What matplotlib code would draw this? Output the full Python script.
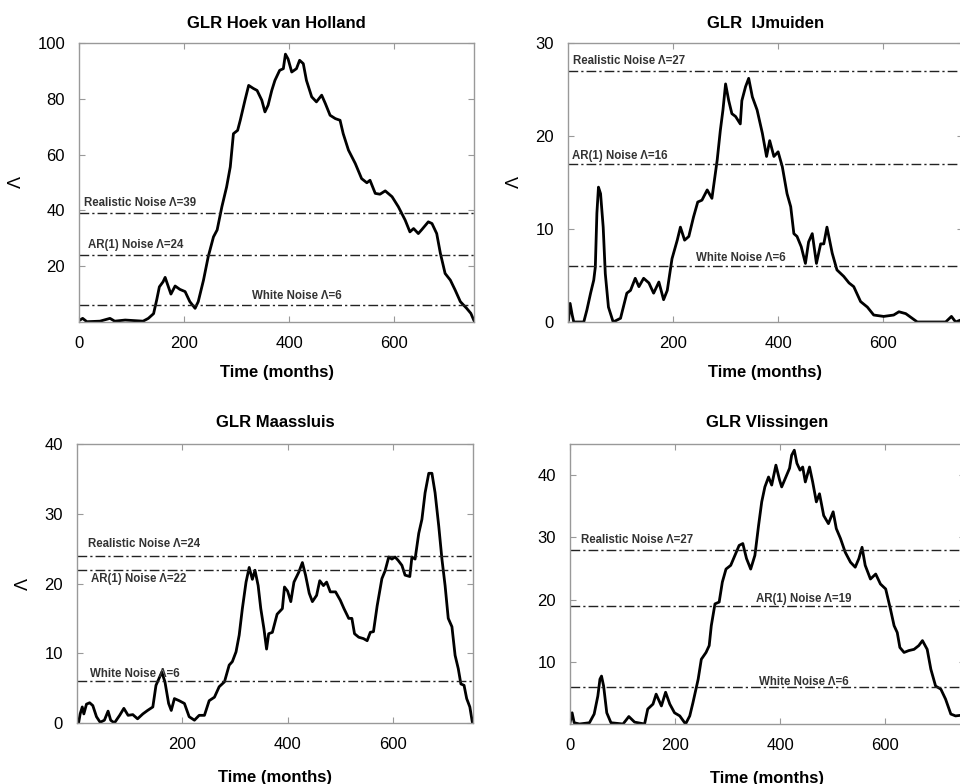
import matplotlib
matplotlib.use("Agg")
import matplotlib.pyplot as plt

plt.rcParams['font.family'] = ['Liberation Sans', 'DejaVu Sans']

# ---------------- data ----------------
hoek_t = [0, 7, 15, 40, 59, 68, 88, 122, 132, 142, 148, 153, 160, 164, 168, 175, 183, 192, 202, 211, 221, 227,
          237, 246, 256, 263, 272, 281, 288, 294, 302, 307, 316, 323, 332, 339, 348, 354, 360, 367, 373, 382,
          389, 393, 398, 405, 414, 420, 427, 433, 443, 452, 462, 469, 478, 488, 497, 503, 513, 526, 538, 548,
          554, 564, 573, 583, 596, 608, 621, 630, 637, 646, 653, 665, 672, 681, 688, 697, 707, 716, 726, 738,
          746, 752]
hoek_v = [0.5, 1.3, 0.1, 0.3, 1.3, 0.3, 0.7, 0.3, 1.3, 3.0, 8.0, 12.6, 14.4, 16.0, 13.8, 10.0, 12.9, 11.7, 10.9,
          7.3, 4.9, 7.3, 15.0, 23.4, 30.5, 33.0, 41.3, 48.4, 55.6, 67.5, 68.7, 72.3, 79.5, 84.8, 83.7, 83.0, 79.5,
          75.3, 77.7, 83.0, 86.6, 90.2, 90.8, 96.0, 94.3, 89.6, 90.8, 93.8, 92.6, 86.6, 80.7, 78.9, 81.3, 78.3,
          74.1, 72.9, 72.3, 67.5, 61.6, 56.8, 51.4, 49.9, 50.8, 46.1, 45.8, 47.0, 44.9, 41.3, 36.5, 32.3, 33.5,
          31.7, 33.2, 35.9, 35.3, 31.7, 24.6, 17.4, 15.0, 11.5, 7.3, 4.9, 3.1, 0.5]

ijm_t = [1, 4, 8, 11, 30, 36, 43, 49, 52, 55, 58, 62, 67, 71, 77, 86, 100, 112, 119, 128, 135, 144, 154, 163,
         173, 182, 189, 198, 208, 214, 222, 230, 239, 247, 255, 265, 274, 284, 290, 295, 300, 306, 312, 319,
         328, 331, 338, 344, 351, 360, 370, 378, 384, 392, 400, 408, 417, 424, 430, 436, 444, 452, 458, 465,
         473, 481, 487, 493, 503, 512, 525, 535, 544, 557, 570, 582, 601, 620, 630, 643, 665, 719, 730, 738, 747]
ijm_v = [0.2, 2.0, 0.75, 0.0, 0.0, 1.3, 3.1, 4.5, 5.9, 11.7, 14.5, 13.8, 10.2, 5.2, 1.6, 0.0, 0.4, 3.1, 3.4, 4.7,
         3.8, 4.7, 4.2, 3.1, 4.3, 2.4, 3.4, 6.8, 8.8, 10.2, 8.8, 9.2, 11.3, 12.9, 13.1, 14.2, 13.3, 17.4, 20.6,
         22.8, 25.6, 23.8, 22.4, 22.1, 21.3, 23.8, 25.3, 26.2, 24.2, 22.8, 20.3, 17.8, 19.5, 17.8, 18.3, 16.7,
         13.8, 12.4, 9.5, 9.2, 8.1, 6.3, 8.6, 9.5, 6.3, 8.4, 8.4, 10.2, 7.4, 5.6, 4.9, 4.2, 3.8, 2.2, 1.6, 0.75,
         0.6, 0.75, 1.1, 0.9, 0.0, 0.0, 0.6, 0.0, 0.2]

maas_t = [3, 6, 10, 13, 18, 24, 30, 37, 44, 52, 59, 64, 71, 81, 89, 97, 106, 115, 125, 134, 144, 150, 157, 161,
          167, 174, 179, 185, 194, 204, 213, 223, 232, 242, 251, 261, 270, 280, 289, 295, 302, 308, 314, 321,
          327, 333, 338, 344, 349, 355, 360, 364, 371, 380, 390, 394, 400, 406, 412, 421, 428, 434, 441, 447,
          455, 461, 468, 474, 481, 491, 500, 507, 516, 522, 527, 535, 544, 551, 557, 563, 570, 579, 585, 592,
          598, 604, 610, 617, 623, 632, 636, 642, 649, 655, 661, 668, 674, 680, 687, 693, 699, 705, 712, 718,
          724, 729, 735, 740, 746, 751]
maas_v = [0.0, 1.3, 2.3, 1.3, 2.7, 2.9, 2.5, 0.9, 0.1, 0.4, 1.7, 0.4, 0.0, 1.1, 2.1, 1.1, 1.2, 0.6, 1.3, 1.8,
          2.3, 5.4, 6.6, 7.3, 5.9, 2.8, 1.8, 3.5, 3.2, 2.8, 0.9, 0.4, 1.1, 1.1, 3.2, 3.7, 5.2, 5.9, 8.3, 8.8,
          10.2, 12.6, 16.4, 20.2, 22.3, 20.6, 21.9, 19.7, 16.4, 13.5, 10.6, 12.8, 13.0, 15.6, 16.4, 19.5, 18.9,
          17.4, 20.2, 21.6, 23.0, 21.2, 18.6, 17.4, 18.3, 20.4, 19.7, 20.2, 18.8, 18.8, 17.6, 16.4, 15.0, 15.0,
          12.8, 12.3, 12.1, 11.8, 13.0, 13.1, 16.8, 20.7, 21.8, 23.8, 23.5, 23.8, 23.3, 22.6, 21.2, 21.0, 23.8,
          23.5, 27.2, 29.2, 33.0, 35.8, 35.8, 33.0, 28.2, 23.5, 19.7, 15.0, 13.8, 9.7, 7.8, 5.6, 5.4, 3.5, 2.3,
          0.0]

vlis_t = [0, 4, 8, 18, 37, 46, 53, 57, 60, 64, 70, 78, 101, 112, 123, 142, 148, 158, 164, 174, 182, 190, 199,
          209, 220, 228, 234, 244, 250, 259, 265, 269, 276, 284, 290, 297, 306, 314, 322, 329, 336, 344, 352,
          359, 365, 371, 378, 384, 392, 399, 403, 410, 418, 422, 427, 432, 438, 443, 448, 456, 462, 469, 475,
          483, 492, 501, 507, 515, 524, 534, 543, 550, 556, 562, 572, 582, 591, 601, 610, 617, 623, 628, 636,
          645, 655, 664, 671, 680, 687, 696, 706, 715, 725, 734, 744]
vlis_v = [0.2, 1.8, 0.2, 0.0, 0.2, 1.6, 4.5, 7.2, 7.7, 6.1, 1.8, 0.2, 0.0, 1.2, 0.3, 0.0, 2.4, 3.2, 4.8, 2.9,
          5.1, 3.2, 1.8, 1.3, 0.0, 1.3, 3.4, 7.2, 10.4, 11.5, 12.6, 15.8, 19.3, 19.6, 22.8, 24.9, 25.5, 27.1,
          28.7, 29.0, 26.6, 24.9, 27.1, 31.9, 35.7, 38.1, 39.7, 38.4, 41.6, 39.2, 38.1, 39.5, 41.1, 43.2, 44.0,
          41.9, 40.8, 41.3, 38.9, 41.3, 38.9, 35.7, 37.0, 33.5, 32.2, 34.1, 31.4, 29.8, 27.6, 26.0, 25.2, 26.6,
          28.4, 25.5, 23.3, 24.1, 22.5, 21.7, 18.5, 15.8, 14.7, 12.3, 11.5, 11.8, 12.0, 12.6, 13.4, 12.0, 8.8,
          6.1, 5.6, 4.0, 1.6, 1.3, 1.4]

titles = ["GLR Hoek van Holland", "GLR  IJmuiden", "GLR Maassluis", "GLR Vlissingen"]
thresholds = [[39, 24, 6], [27, 17, 6], [24, 22, 6], [28, 19, 6]]
threshold_labels = [
    ["Realistic Noise \u039b=39", "AR(1) Noise \u039b=24", "White Noise \u039b=6"],
    ["Realistic Noise \u039b=27", "AR(1) Noise \u039b=16", "White Noise \u039b=6"],
    ["Realistic Noise \u039b=24", "AR(1) Noise \u039b=22", "White Noise \u039b=6"],
    ["Realistic Noise \u039b=27", "AR(1) Noise \u039b=19", "White Noise \u039b=6"],
]
# label anchor (month, value)
label_pos = [
    [(10, 42.7), (18, 27.6), (330, 9.4)],
    [(10, 28.1), (8, 17.9), (243, 6.9)],
    [(20, 25.7), (27, 20.7), (24, 7.0)],
    [(21, 29.6), (355, 20.1), (360, 6.8)],
]
yticks = [[20, 40, 60, 80, 100], [0, 10, 20, 30], [0, 10, 20, 30, 40], [10, 20, 30, 40]]
xticks = [[0, 200, 400, 600], [200, 400, 600], [200, 400, 600], [0, 200, 400, 600]]
ylims = [(0, 100), (0, 30), (0, 40), (0, 45)]
xlim = (0, 752)
series = [(hoek_t, hoek_v), (ijm_t, ijm_v), (maas_t, maas_v), (vlis_t, vlis_v)]
show_ylabel = [True, True, True, False]

# ---------------- layout ----------------
W, H = 960, 784
fig = plt.figure(figsize=(W / 100, H / 100), dpi=100)
rects_px = [(79, 43, 395, 279), (568, 43, 395, 279), (77, 444, 396, 279), (570, 444, 395, 280)]

for i in range(4):
    l, t, w, h = rects_px[i]
    ax = fig.add_axes([l / W, (H - t - h) / H, w / W, h / H])
    tt, vv = series[i]
    ax.plot(tt, vv, color='black', lw=2.0, solid_joinstyle='round')
    for thr in thresholds[i]:
        ax.axhline(thr, color='#222222', lw=1.0, dashes=(7, 2.2, 1.6, 2.2))
    for (px, py), txt in zip(label_pos[i], threshold_labels[i]):
        ax.text(px, py, txt, fontsize=8.3, fontweight='bold', color='#333333',
                ha='left', va='center')
    ax.set_xlim(*xlim)
    ax.set_ylim(*ylims[i])
    ax.set_xticks(xticks[i])
    ax.set_yticks(yticks[i])
    ax.tick_params(direction='in', length=4, width=0.8, color='#999999',
                   top=True, right=True, labelsize=12, pad=10)
    for sp in ax.spines.values():
        sp.set_color('#999999')
        sp.set_linewidth(1.0)
    ax.set_title(titles[i], fontsize=12, fontweight='bold', pad=10.5 if i < 2 else 12.5)
    ax.set_xlabel("Time (months)", fontsize=12, fontweight='bold', labelpad=10 if i < 2 else 13)
    if show_ylabel[i]:
        ax.set_ylabel("\u039b", fontsize=13, rotation=90, labelpad=9)

fig.savefig("out.png", dpi=100)
